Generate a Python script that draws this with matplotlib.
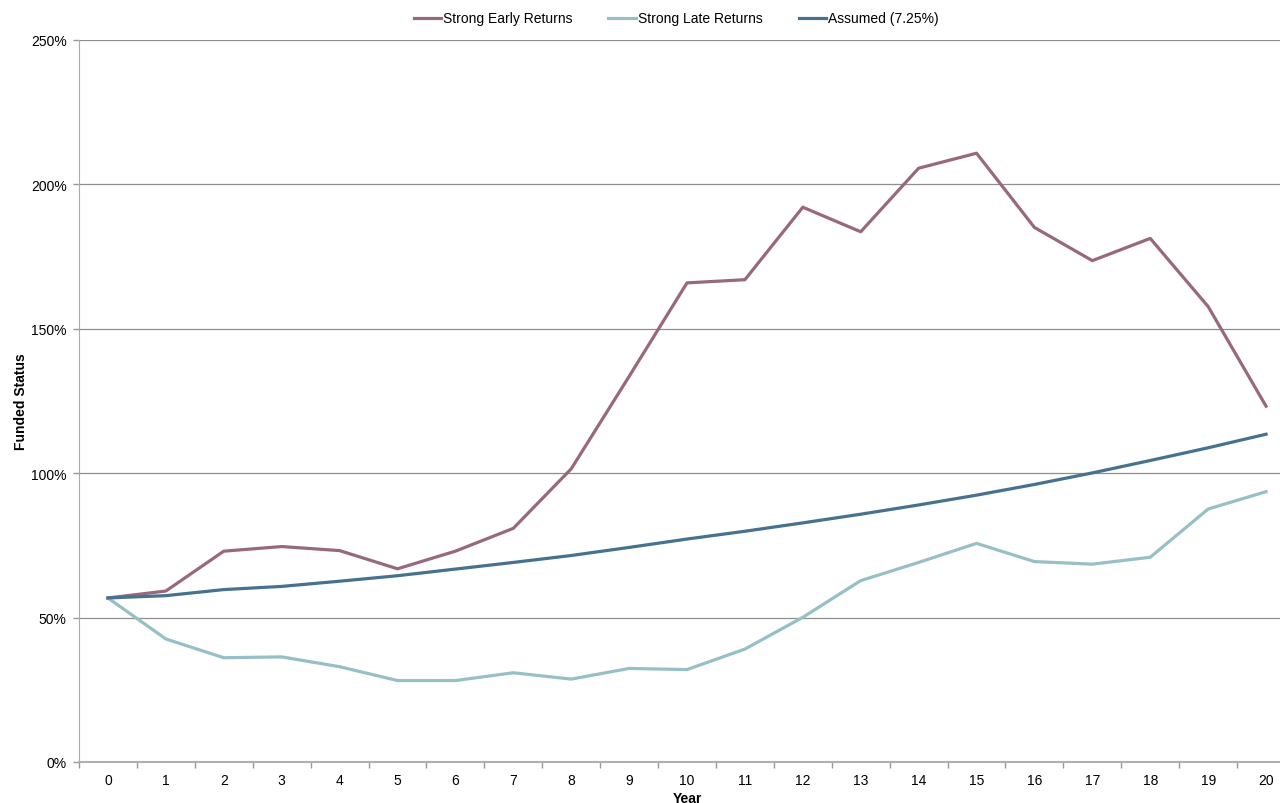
import matplotlib.pyplot as plt
import numpy as np
from matplotlib.ticker import FixedLocator, PercentFormatter

plt.rcParams['font.family'] = ['Liberation Sans', 'DejaVu Sans']

# Données (statut de financement, en %)
years = list(range(0, 21))
strong_early = [56.8, 59.2, 73.0, 74.6, 73.2, 66.9, 73.0, 80.9, 101.5, 133.5, 165.9,
                167.0, 192.1, 183.6, 205.6, 210.8, 185.1, 173.6, 181.3, 157.7, 123.2]
strong_late = [56.8, 42.6, 36.1, 36.4, 33.0, 28.2, 28.2, 30.9, 28.7, 32.4, 32.0,
               39.1, 50.1, 62.8, 69.1, 75.7, 69.4, 68.5, 70.9, 87.6, 93.6]
assumed = [56.8, 57.6, 59.7, 60.8, 62.6, 64.5, 66.8, 69.1, 71.5, 74.3, 77.2,
           79.9, 82.8, 85.8, 89.0, 92.4, 96.1, 100.1, 104.4, 108.8, 113.5]
labels = ['Strong Early Returns', 'Strong Late Returns', 'Assumed (7.25%)']
colors = ['#98687c', '#97bfc6', '#46728f']

fig = plt.figure(figsize=(12.8, 8.04), dpi=100)
ax = fig.add_axes([79 / 1280, 41 / 804, (1295 - 79) / 1280, 722 / 804])

for serie, label, color in zip([strong_early, strong_late, assumed], labels, colors):
    ax.plot(years, serie, label=label, color=color, linewidth=2.3)

ax.set_xlim(-0.5, 20.5)
ax.set_ylim(0, 250)
ax.set_yticks(np.arange(0, 251, 50))
ax.yaxis.set_major_formatter(PercentFormatter(decimals=0))
ax.set_xticks(years)
ax.xaxis.set_minor_locator(FixedLocator(np.arange(-0.5, 20.6, 1)))
ax.tick_params(axis='x', which='major', length=0, pad=8, labelsize=10)
ax.tick_params(axis='x', which='minor', length=4, color='#999999', width=1)
ax.tick_params(axis='y', length=4, color='#999999', width=1, labelsize=10, pad=5)

ax.grid(axis='y', color='#8f8f8f', linewidth=0.9)
ax.set_axisbelow(True)
for side in ['top', 'right']:
    ax.spines[side].set_visible(False)
ax.spines['left'].set_color('#aaaaaa')
ax.spines['bottom'].set_color('#b0b0b0')
ax.spines['bottom'].set_linewidth(1.5)

ax.set_xlabel('Year', fontweight='bold', fontsize=10, labelpad=3)
ax.set_ylabel('Funded Status', fontweight='bold', fontsize=10, labelpad=2)

fig.legend(loc='upper center', bbox_to_anchor=(676 / 1280, 1.0), ncol=3,
           frameon=False, fontsize=10, handlelength=2.0, handletextpad=0.1,
           columnspacing=2.6)

plt.savefig('out.png', dpi=100)
